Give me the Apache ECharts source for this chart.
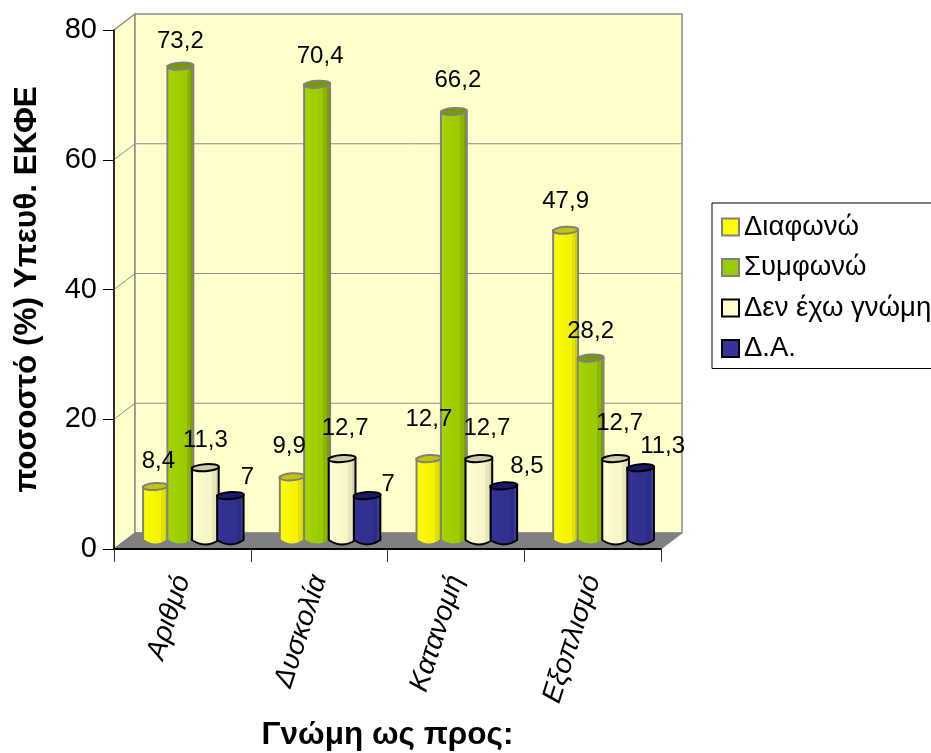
<!DOCTYPE html>
<html>
<head>
<meta charset="utf-8">
<style>html,body{margin:0;padding:0;background:#fff;overflow:hidden}#chart{width:931px;height:753px}</style>
<script src="https://cdn.jsdelivr.net/npm/echarts@6/dist/echarts.min.js"></script>
</head>
<body>
<div id="chart"></div>
<script>
// Survey responses per topic, percentages
const categories = ['Αριθμό', 'Δυσκολία', 'Κατανομή', 'Εξοπλισμό'];
const seriesNames = ['Διαφωνώ', 'Συμφωνώ', 'Δεν έχω γνώμη', 'Δ.Α.'];
const disagree = [8.4, 9.9, 12.7, 47.9];
const agree = [73.2, 70.4, 66.2, 28.2];
const noOpinion = [11.3, 12.7, 12.7, 12.7];
const noAnswer = [7, 7, 8.5, 11.3];
const yTicks = [0, 20, 40, 60, 80];

// Pseudo-3D box depth and cylinder proportions
const DEPTH_X = 21, DEPTH_Y = 16;
const BAR_STEP = 25, BAR_RY = 3.5;
const FONT = '"Liberation Sans", Arial, sans-serif';

const looks = [
  { values: disagree, base: '#ffff00', shade: ['#ffff00', '#f4f400', '#e2e200', '#d4d400'], cap: '#c4c400', edge: '#808080', w: 25,
    nudge: [[3, -25], [-3, -30], [0, -39], [0, -29]] },
  { values: agree, base: '#99cc00', shade: ['#a6d800', '#9ccb00', '#8cb500', '#7f9f00'], cap: '#7a9900', edge: '#808080', w: 26,
    nudge: [[0, -25], [3, -28], [4, -31], [0, -27]] },
  { values: noOpinion, base: '#ffffcc', shade: ['#ffffd6', '#f6f6c8', '#e6e6ba', '#d6d6ae'], cap: '#cdcda8', edge: '#000000', w: 27,
    nudge: [[0, -27], [3, -30], [8, -30], [4, -35]] },
  { values: noAnswer, base: '#333399', shade: ['#333399', '#30308f', '#2c2c88', '#3c3c96'], cap: '#1a1a70', edge: '#000000', w: 27,
    nudge: [[17, -18], [21, -11], [23, -19], [22, -21]] }
];

// Horizontal light-to-dark banding of a cylinder body
function bodyFill(shade) {
  const stops = [];
  const at = [0, 0.55, 0.72, 0.86, 1];
  shade.forEach((c, i) => {
    stops.push({ offset: at[i], color: c }, { offset: at[i + 1], color: c });
  });
  stops[1] = { offset: 0.55, color: shade[1] };
  return new echarts.graphic.LinearGradient(0, 0, 1, 0, stops);
}

// Back wall, side wall, floor and the grid lines running across them
function renderBox(params, api) {
  const v = api.value(0);
  const left = api.coord([0, v])[0] - (api.size([1, 0])[0] / 2);
  const right = left + api.size([1, 0])[0] * categories.length;
  const y = api.coord([0, v])[1];
  const line = '#8c8c8c';
  const children = [];
  if (params.dataIndex === 0) {
    const top = api.coord([0, yTicks[yTicks.length - 1]])[1];
    children.push({
      type: 'polygon', z2: 0,
      shape: { points: [[left, y], [left + DEPTH_X, y - DEPTH_Y], [left + DEPTH_X, top - DEPTH_Y], [left, top]] },
      style: { fill: '#ffffcc', stroke: line, lineWidth: 1.5 }
    }, {
      type: 'rect', z2: 0,
      shape: { x: left + DEPTH_X, y: top - DEPTH_Y, width: right - left, height: y - top },
      style: { fill: '#ffffcc', stroke: line, lineWidth: 1.5 }
    }, {
      type: 'polygon', z2: 1,
      shape: { points: [[left, y], [right, y], [right + DEPTH_X, y - DEPTH_Y], [left + DEPTH_X, y - DEPTH_Y]] },
      style: { fill: '#808080', stroke: '#808080', lineWidth: 1 }
    });
  } else if (params.dataIndex < yTicks.length - 1) {
    children.push({
      type: 'polyline', z2: 1,
      shape: { points: [[left, y], [left + DEPTH_X, y - DEPTH_Y], [right + DEPTH_X, y - DEPTH_Y]] },
      style: { fill: 'none', stroke: line, lineWidth: 1 }
    });
  }
  return { type: 'group', children };
}

// One cylinder per data item, with its value label on top of everything
function renderCylinder(look, seriesIndex) {
  return function (params, api) {
    const idx = api.value(0), val = api.value(1);
    const groupOff = (seriesIndex - 1.5) * BAR_STEP;
    const cx = api.coord([idx, 0])[0] + DEPTH_X / 2 + groupOff;
    const yBase = api.coord([idx, 0])[1] - DEPTH_Y / 2;
    const yTop = api.coord([idx, val])[1] - DEPTH_Y / 2;
    const hw = look.w / 2;
    const n = look.nudge[params.dataIndex];
    const edge = { stroke: look.edge, lineWidth: 2 };
    return {
      type: 'group',
      children: [
        {
          type: 'path',
          shape: {
            pathData: 'M' + (cx - hw) + ' ' + yTop + 'L' + (cx - hw) + ' ' + yBase +
              'Q' + cx + ' ' + (yBase + 2.6 * BAR_RY) + ' ' + (cx + hw) + ' ' + yBase +
              'L' + (cx + hw) + ' ' + yTop + 'Z',
            x: cx - hw, y: yTop, width: hw * 2, height: yBase - yTop + BAR_RY
          },
          style: Object.assign({ fill: bodyFill(look.shade) }, edge)
        },
        {
          type: 'ellipse',
          x: cx, y: yTop, rotation: 0.07,
          shape: { cx: 0, cy: 0, rx: hw, ry: BAR_RY },
          style: Object.assign({ fill: look.cap }, edge)
        },
        {
          type: 'text', z2: 50,
          style: {
            x: cx + n[0], y: yTop + n[1],
            text: String(val).replace('.', ','),
            font: '24px ' + FONT, fill: '#000',
            textAlign: 'center', textVerticalAlign: 'middle'
          }
        }
      ]
    };
  };
}

const chart = echarts.init(document.getElementById('chart'), null, { renderer: 'canvas' });

chart.setOption({
  animation: false,
  backgroundColor: '#ffffff',
  grid: { left: 114, top: 30, width: 547, height: 519, outerBoundsMode: 'none' },
  legend: {
    orient: 'vertical', left: 712, top: 203,
    padding: [10, 10, 6, 9],
    itemWidth: 17, itemHeight: 17, itemGap: 12.5, itemNameGap: 9, align: 'left',
    backgroundColor: '#ffffff', borderColor: '#000000', borderWidth: 1,
    textStyle: { fontFamily: FONT, fontSize: 27.5, color: '#000' },
    data: seriesNames.map((name, i) => ({
      name, icon: 'rect',
      itemStyle: { color: looks[i].base, borderColor: looks[i].edge, borderWidth: 2 }
    }))
  },
  xAxis: {
    type: 'category', data: categories, z: 5,
    name: 'Γνώμη ως προς:', nameLocation: 'middle', nameGap: 170,
    nameTextStyle: { fontFamily: FONT, fontSize: 31.5, fontWeight: 'bold', color: '#000' },
    axisLine: { lineStyle: { color: '#000', width: 2 } },
    axisTick: { show: true, alignWithLabel: false, length: 13, lineStyle: { color: '#333', width: 1 } },
    axisLabel: { interval: 0, rotate: 72, margin: 27, fontFamily: FONT, fontStyle: 'italic', fontSize: 28, color: '#000' }
  },
  yAxis: {
    type: 'value', min: 0, max: 80, interval: 20, z: 5,
    name: 'ποσοστό (%) Υπευθ. ΕΚΦΕ', nameLocation: 'middle', nameGap: 71,
    nameTextStyle: { fontFamily: FONT, fontSize: 31.5, fontWeight: 'bold', color: '#000' },
    axisLine: { show: true, lineStyle: { color: '#000', width: 1.5 } },
    axisTick: { show: true, length: 11, lineStyle: { color: '#000', width: 1 } },
    axisLabel: { margin: 17, fontFamily: FONT, fontSize: 29, color: '#000' },
    splitLine: { show: false }
  },
  series: [
    {
      type: 'custom', name: '__box', silent: true, clip: false, z: 1,
      encode: { y: 0 },
      data: yTicks.map(t => [t]),
      renderItem: renderBox
    }
  ].concat(looks.map((look, i) => ({
    type: 'custom', name: seriesNames[i], clip: false, z: 2,
    itemStyle: { color: look.base },
    encode: { x: 0, y: 1 },
    data: look.values.map((v, k) => [k, v]),
    renderItem: renderCylinder(look, i)
  })))
});
</script>
</body>
</html>
